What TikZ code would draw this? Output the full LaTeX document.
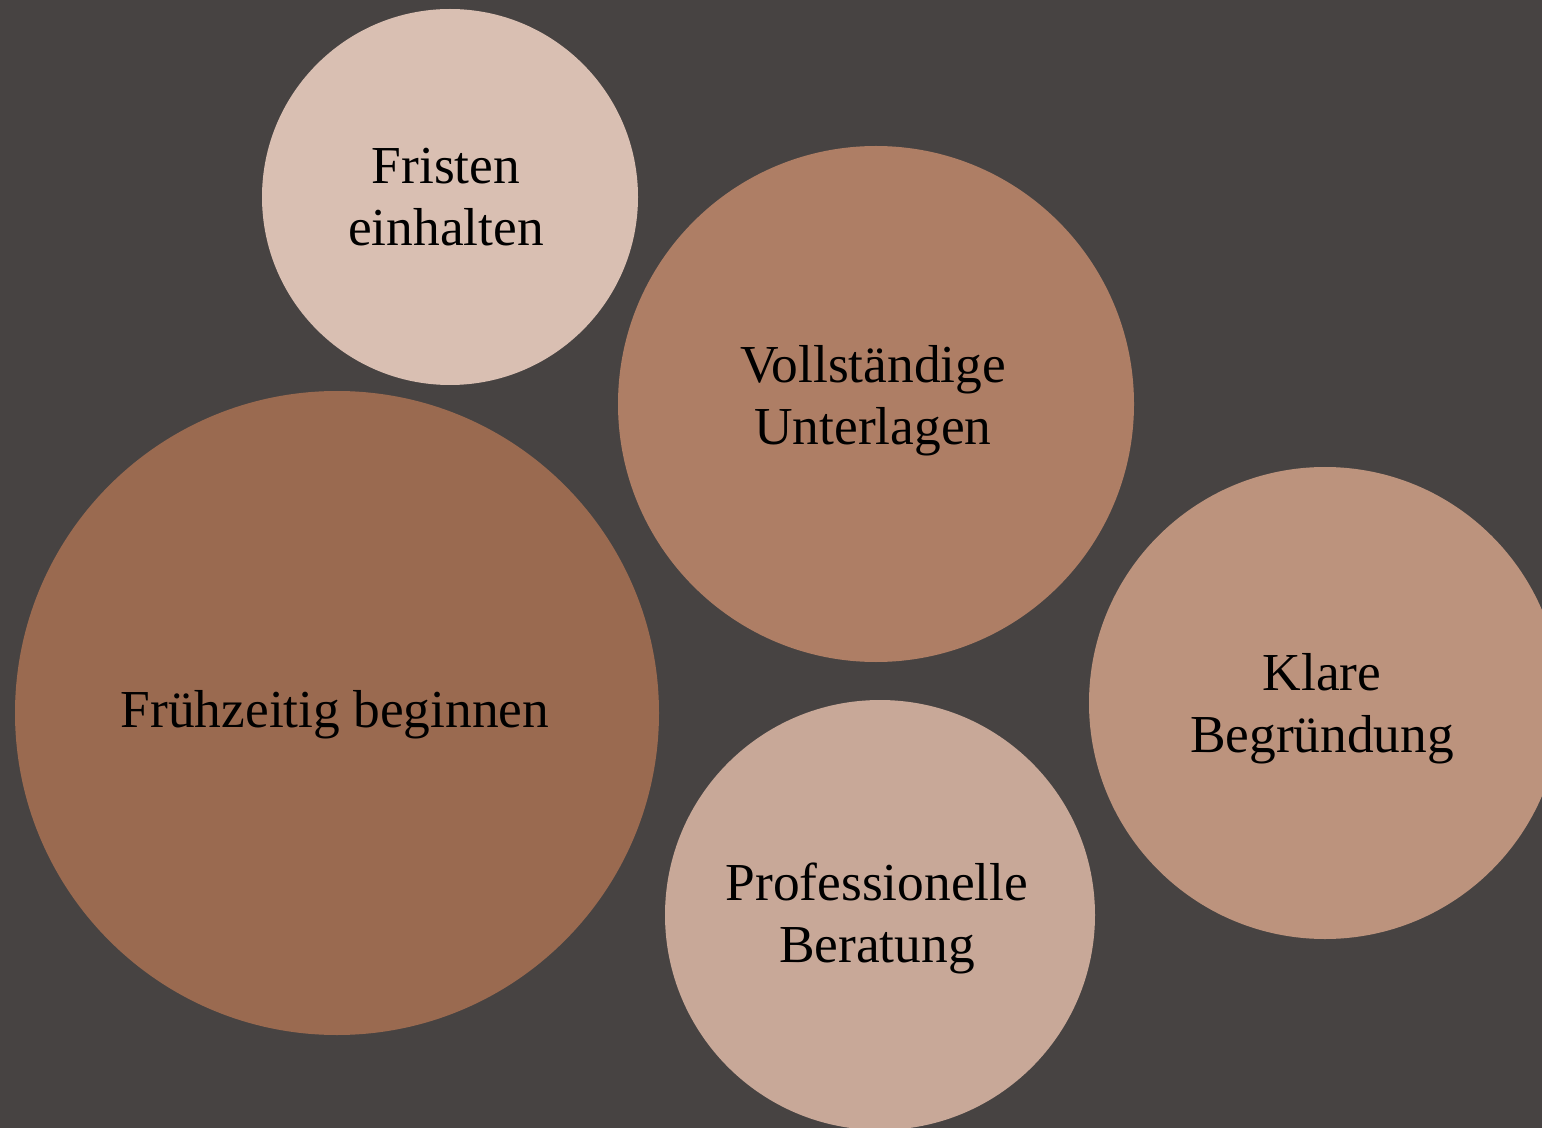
\documentclass[tikz,border=0pt]{standalone}
\usepackage{fontspec}
\setmainfont{Liberation Serif}
\definecolor{bg}{HTML}{474342}
\definecolor{cA}{HTML}{D9BFB2}
\definecolor{cB}{HTML}{AE7E65}
\definecolor{cC}{HTML}{9A6A50}
\definecolor{cD}{HTML}{BC937D}
\definecolor{cE}{HTML}{C8A898}
\tikzset{bubble/.style={circle,inner sep=0pt,align=center,text=black,font=\fontsize{26.7}{31}\selectfont}}
\begin{document}
\begin{tikzpicture}[x=0.5pt,y=-0.5pt]
\useasboundingbox (0,0) rectangle (1542,1128);
\clip (0,0) rectangle (1542,1128);
\fill[bg] (0,0) rectangle (1542,1128);
\node[bubble,fill=cA,minimum size=188pt] (fristen) at (450,197) {};
\node[bubble] (fristenT) at (446,197) {Fristen\\einhalten};
\node[bubble,fill=cB,minimum size=258pt] (voll) at (876,404) {};
\node[bubble] (vollT) at (873,401) {Vollständige\\Unterlagen};
\node[bubble,fill=cC,minimum size=322pt] (frueh) at (337,713) {};
\node[bubble] (fruehT) at (335,715) {Frühzeitig beginnen};
\node[bubble,fill=cD,minimum size=236pt] (klare) at (1325,703) {};
\node[bubble] (klareT) at (1322,709) {Klare\\Begründung};
\node[bubble,fill=cE,minimum size=215pt] (prof) at (880,915) {};
\node[bubble] (profT) at (877,918) {Professionelle\\Beratung};
\end{tikzpicture}
\end{document}
